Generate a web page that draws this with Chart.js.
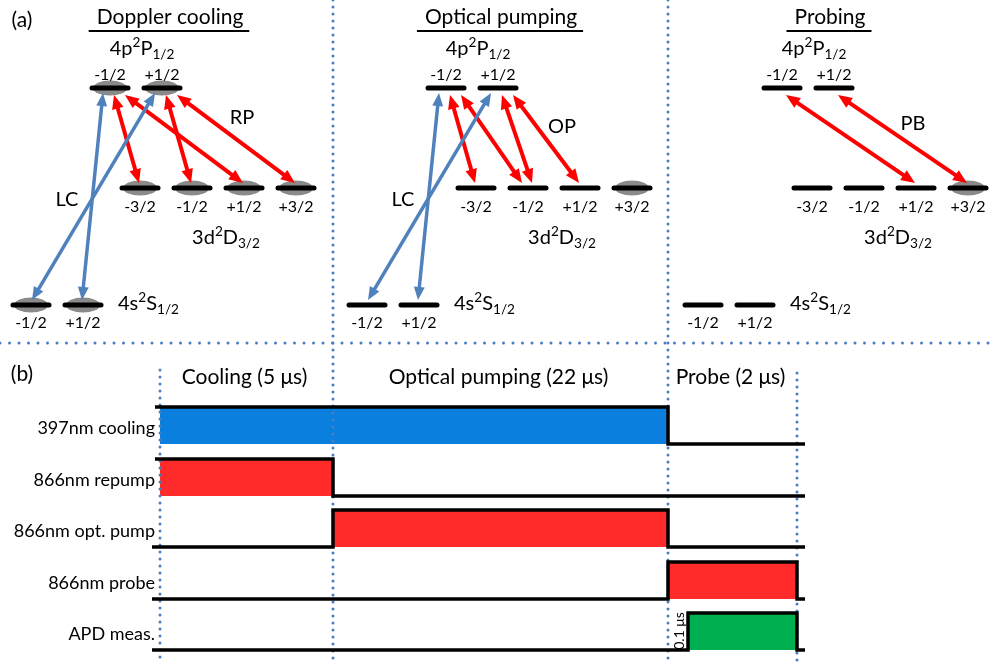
<!DOCTYPE html>
<html>
<head>
<meta charset="utf-8">
<script src="https://cdn.jsdelivr.net/npm/chart.js@4.4.0/dist/chart.umd.min.js"></script>
<style>
  body { margin: 0; background: #fff; }
  #wrap { width: 996px; height: 664px; }
</style>
</head>
<body>
<div id="wrap"><canvas id="scheme"></canvas></div>
<script>
// (a) Zeeman sublevels of the three levels
var levelS = ["-1/2", "+1/2"];
var levelD = ["-3/2", "-1/2", "+1/2", "+3/2"];
var levelP = ["-1/2", "+1/2"];
var stages = ["Doppler cooling", "Optical pumping", "Probing"];
var beamNames = ["RP", "OP", "PB"];
// populated sublevels per stage (index into the lists above)
var popS = [[0, 1], [], []];
var popD = [[0, 1, 2, 3], [3], [3]];
var popP = [[0, 1], [], []];
// 397nm couplings: [P index, S index]
var coolLinks = [[[0, 1], [1, 0]], [[0, 1], [1, 0]], []];
// 866nm couplings: [P index, D index]
var redLinks = [
  [[0, 0], [0, 2], [1, 1], [1, 3]],
  [[0, 0], [0, 1], [1, 1], [1, 2]],
  [[0, 2], [1, 3]]
];

// (b) pulse sequence, on a schematic time axis
var phases = ["Cooling (5 \u03bcs)", "Optical pumping (22 \u03bcs)", "Probe (2 \u03bcs)"];
var phaseEdges = [160, 333, 668, 797];
var channels = ["397nm cooling", "866nm repump", "866nm opt. pump", "866nm probe", "APD meas."];
var pulseOn = [160, 160, 333, 668, 688];
var pulseOff = [668, 333, 668, 797, 797];
var pulseColors = ["#0A7FDE", "#FF2A2A", "#FF2A2A", "#FF2A2A", "#00B050"];

// layout
var FONT = "Lato, 'Open Sans', sans-serif";
var panelStep = 336;
var gap = 52, half = 18;
var xS0 = 31, xD0 = 140, xP0 = 110;
var yS = 305, yD = 188, yP = 88;
var BLUE = "#4F81BD", RED = "#FF0000", DOT = "#4A7EC4";

var datasets = [];
function seg(pts, color, width, order, extra) {
  var ds = { data: pts, showLine: true, borderColor: color, borderWidth: width,
             pointRadius: 0, fill: false, order: order };
  for (var k in (extra || {})) ds[k] = extra[k];
  datasets.push(ds);
  return ds;
}

// grey population blob
var blob = document.createElement("canvas");
blob.width = 36; blob.height = 16;
(function () {
  var c = blob.getContext("2d");
  c.fillStyle = "#8A8A8A";
  c.beginPath(); c.ellipse(18, 8, 17, 7.5, 0, 0, Math.PI * 2); c.fill();
})();

function arrow(a, b, color, width, hl) {
  var dx = b.x - a.x, dy = b.y - a.y, L = Math.sqrt(dx * dx + dy * dy);
  var ux = dx / L, uy = dy / L, s = hl * 0.8;
  seg([{ x: a.x + ux * s, y: a.y + uy * s }, { x: b.x - ux * s, y: b.y - uy * s }],
      color, width, 2, { tips: [a, b], headLen: hl });
}

stages.forEach(function (name, p) {
  var off = p * panelStep;
  var blobs = [];
  popS[p].forEach(function (i) { blobs.push({ x: off + xS0 + gap * i, y: yS }); });
  popD[p].forEach(function (i) { blobs.push({ x: off + xD0 + gap * i, y: yD }); });
  popP[p].forEach(function (i) { blobs.push({ x: off + xP0 + gap * i, y: yP }); });
  datasets.push({ data: blobs, showLine: false, pointStyle: blob, pointRadius: 10, order: 8 });

  [[levelS, xS0, yS], [levelD, xD0, yD], [levelP, xP0, yP]].forEach(function (lv) {
    lv[0].forEach(function (m, i) {
      var cx = off + lv[1] + gap * i;
      seg([{ x: cx - half, y: lv[2] }, { x: cx + half, y: lv[2] }], "#000", 5, 4,
          { borderCapStyle: "round" });
    });
  });

  coolLinks[p].forEach(function (l) {
    var px = off + xP0 + gap * l[0] - 7;
    var sx = off + xS0 + gap * l[1] + (l[1] === 0 ? 1 : -1);
    arrow({ x: px, y: 93 }, { x: sx, y: 300 }, BLUE, 3.5, 13);
  });

  var countP = [0, 0], countD = [0, 0, 0, 0];
  redLinks[p].forEach(function (l) { countD[l[1]]++; });
  var seenD = [0, 0, 0, 0];
  redLinks[p].forEach(function (l) {
    var px = off + xP0 + gap * l[0] + 4 + 11 * countP[l[0]]++;
    var dOff = countD[l[1]] > 1 ? (seenD[l[1]]++ === 0 ? -6 : 4) : -1;
    var dx = off + xD0 + gap * l[1] + dOff;
    arrow({ x: px, y: 95 }, { x: dx, y: 183 }, RED, 4, 14);
  });
});

// dotted separators
var dotStyle = { borderDash: [0, 7], borderCapStyle: "round" };
seg([{ x: 0, y: 343 }, { x: 996, y: 343 }], DOT, 3, 9, { borderDash: [0, 9.5], borderCapStyle: "round" });
seg([{ x: 333, y: 0 }, { x: 333, y: 664 }], DOT, 3, 9, dotStyle);
seg([{ x: 668, y: 0 }, { x: 668, y: 664 }], DOT, 3, 9, dotStyle);
seg([{ x: phaseEdges[0], y: 370 }, { x: phaseEdges[0], y: 664 }], DOT, 3, 9, dotStyle);
seg([{ x: phaseEdges[3], y: 373 }, { x: phaseEdges[3], y: 664 }], DOT, 3, 9, dotStyle);

// pulse rows
var rowTop = [], rowBot = [];
channels.forEach(function (ch, i) {
  var top = Math.round(407 + 51.5 * i), bot = top + 37;
  rowTop.push(top); rowBot.push(bot);
  seg([{ x: pulseOn[i], y: top }, { x: pulseOff[i], y: top }], pulseColors[i], 0, 10,
      { fill: { value: bot }, backgroundColor: pulseColors[i] });
  var pts;
  if (pulseOn[i] <= phaseEdges[0]) {
    pts = [{ x: 155, y: top }, { x: pulseOff[i], y: top }, { x: pulseOff[i], y: bot }, { x: 805, y: bot }];
  } else {
    pts = [{ x: 152, y: bot }, { x: pulseOn[i], y: bot }, { x: pulseOn[i], y: top },
           { x: pulseOff[i], y: top }, { x: pulseOff[i], y: bot }, { x: 805, y: bot }];
  }
  seg(pts, "#000", 3.5, 5, { borderJoinStyle: "miter" });
});

var arrowHeads = {
  id: "arrowHeads",
  afterDatasetsDraw: function (chart) {
    var ctx = chart.ctx, xs = chart.scales.x, ys = chart.scales.y;
    chart.data.datasets.forEach(function (ds) {
      if (!ds.tips) return;
      var a = { x: xs.getPixelForValue(ds.tips[0].x), y: ys.getPixelForValue(ds.tips[0].y) };
      var b = { x: xs.getPixelForValue(ds.tips[1].x), y: ys.getPixelForValue(ds.tips[1].y) };
      [[a, b], [b, a]].forEach(function (pair) {
        var tip = pair[0], from = pair[1];
        var ang = Math.atan2(tip.y - from.y, tip.x - from.x);
        var hl = ds.headLen, hw = hl * 0.42;
        ctx.save();
        ctx.fillStyle = ds.borderColor;
        ctx.translate(tip.x, tip.y); ctx.rotate(ang);
        ctx.beginPath(); ctx.moveTo(0, 0); ctx.lineTo(-hl, hw); ctx.lineTo(-hl, -hw); ctx.closePath();
        ctx.fill();
        ctx.restore();
      });
    });
  }
};

function rich(ctx, parts, x, y, size, align) {
  var w = 0;
  parts.forEach(function (pt) {
    ctx.font = (pt[1] ? size * 0.68 : size) + "px " + FONT;
    pt.w = ctx.measureText(pt[0]).width; w += pt.w;
  });
  var cx = align === "center" ? x - w / 2 : x;
  ctx.textAlign = "left"; ctx.textBaseline = "middle";
  parts.forEach(function (pt) {
    ctx.font = (pt[1] ? size * 0.68 : size) + "px " + FONT;
    var dy = pt[1] === 1 ? -size * 0.32 : pt[1] === 2 ? size * 0.3 : 0;
    ctx.fillText(pt[0], cx, y + dy);
    cx += pt.w;
  });
}

var labels = {
  id: "labels",
  afterDraw: function (chart) {
    var ctx = chart.ctx, xs = chart.scales.x, ys = chart.scales.y;
    function X(v) { return xs.getPixelForValue(v); }
    function Y(v) { return ys.getPixelForValue(v); }
    function txt(s, x, y, size, align) {
      ctx.font = size + "px " + FONT; ctx.textAlign = align || "center";
      ctx.textBaseline = "middle"; ctx.fillText(s, X(x), Y(y));
    }
    ctx.save();
    ctx.fillStyle = "#000";
    txt("(a)", 22, 20, 21);
    txt("(b)", 22, 374, 21);
    var titleX = [170, 501, 830], beamPos = [[242, 118], [226, 127], [241, 124]];
    stages.forEach(function (name, p) {
      var off = p * panelStep;
      txt(name, titleX[p], 17, 21);
      var w = ctx.measureText(name).width;
      ctx.strokeStyle = "#000"; ctx.lineWidth = 2;
      ctx.beginPath(); ctx.moveTo(X(titleX[p]) - w / 2 - 8, Y(31)); ctx.lineTo(X(titleX[p]) + w / 2 + 6, Y(31)); ctx.stroke();
      rich(ctx, [["4p", 0], ["2", 1], ["P", 0], ["1/2", 2]], X(off + 142), Y(49), 20, "center");
      levelP.forEach(function (m, i) { txt(m, off + xP0 + gap * i, 75, 16); });
      levelD.forEach(function (m, i) { txt(m, off + xD0 + gap * i, 207, 16); });
      levelS.forEach(function (m, i) { txt(m, off + xS0 + gap * i, 323, 16); });
      rich(ctx, [["3d", 0], ["2", 1], ["D", 0], ["3/2", 2]], X(off + 226), Y(238), 20, "center");
      rich(ctx, [["4s", 0], ["2", 1], ["S", 0], ["1/2", 2]], X(off + 118), Y(304), 20, "left");
      if (coolLinks[p].length) txt("LC", off + 67, 200, 20);
      txt(beamNames[p], off + beamPos[p][0], beamPos[p][1], 20);
    });
    phases.forEach(function (ph, i) {
      txt(ph, (phaseEdges[i] + phaseEdges[i + 1]) / 2 - 2, 377, 21);
    });
    channels.forEach(function (ch, i) {
      txt(ch, 155, rowTop[i] + 21, 18, "right");
    });
    ctx.save();
    ctx.translate(X(679), Y(631)); ctx.rotate(-Math.PI / 2);
    ctx.font = "14px " + FONT; ctx.textAlign = "center"; ctx.textBaseline = "middle";
    ctx.fillText("0.1 \u03bcs", 0, 0);
    ctx.restore();
    ctx.restore();
  }
};

new Chart(document.getElementById("scheme"), {
  type: "scatter",
  data: { datasets: datasets },
  options: {
    responsive: true,
    maintainAspectRatio: false,
    animation: false,
    events: [],
    layout: { padding: 0, autoPadding: false },
    scales: {
      x: { type: "linear", min: 0, max: 996, display: false },
      y: { type: "linear", min: 0, max: 664, reverse: true, display: false }
    },
    plugins: { legend: { display: false }, tooltip: { enabled: false } },
    elements: { line: { tension: 0 } }
  },
  plugins: [arrowHeads, labels]
});
</script>
</body>
</html>
